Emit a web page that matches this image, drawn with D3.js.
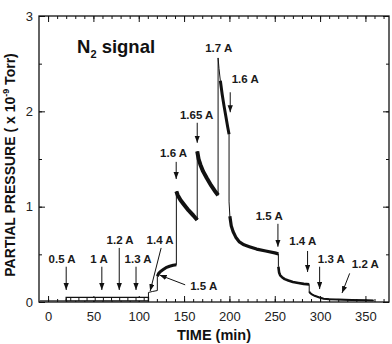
<!DOCTYPE html>
<html><head><meta charset="utf-8">
<script src="https://cdn.jsdelivr.net/npm/d3@7"></script>
<style>body{margin:0;background:#fff} svg{display:block}</style>
</head><body>
<svg id="chart" width="392" height="344"></svg>
<script>
// ---- data ----
const timeMin = [-9, 20, 20, 110.7, 110.7, 115, 120.5, 120.5, 122, 124, 127, 130, 134, 138, 141.5,
  141.5, 143, 146, 150, 155, 160, 164.5,
  164.5, 166, 168, 171, 175, 180, 185, 187.5,
  187.5, 188.5, 190, 192, 194, 196, 198, 199.6,
  199.6, 200.5, 202, 204, 207, 211, 216, 222, 230, 240, 250, 254,
  254, 254.8, 256, 258, 261, 265, 270, 276, 282, 288,
  288, 289, 291, 294, 297, 300, 304, 310, 320, 335, 350, 359];
const pressure = [0.012, 0.012, 0.03, 0.03, 0.10, 0.11, 0.12, 0.27, 0.30, 0.32, 0.34, 0.36, 0.375, 0.385, 0.39,
  1.16, 1.12, 1.07, 1.02, 0.96, 0.91, 0.86,
  1.58, 1.50, 1.44, 1.37, 1.30, 1.22, 1.15, 1.12,
  2.56, 2.45, 2.32, 2.18, 2.06, 1.95, 1.84, 1.76,
  1.05, 0.90, 0.80, 0.74, 0.68, 0.63, 0.60, 0.58, 0.555, 0.535, 0.515, 0.505,
  0.37, 0.31, 0.28, 0.26, 0.24, 0.225, 0.21, 0.20, 0.19, 0.185,
  0.11, 0.095, 0.08, 0.065, 0.055, 0.045, 0.035, 0.03, 0.025, 0.02, 0.018, 0.016];
// noisy baseline band (min .. max)
const bandTime = [20, 110.7];
const bandLow = [0.012, 0.012];
const bandHigh = [0.048, 0.048];
// time ranges where the signal is a noisy (thick) trace
const noisyRanges = [[120.5, 141.5], [141.5, 164.5], [164.5, 187.5], [189, 199.6], [200.5, 254], [254, 288], [288, 359]];

const xTicks = [0, 50, 100, 150, 200, 250, 300, 350];
const yTicks = [0, 1, 2, 3];

// annotations (data coordinates)
const labelText  = ["0.5 A", "1 A", "1.2 A", "1.3 A", "1.4 A", "1.5 A", "1.6 A", "1.65 A", "1.7 A", "1.6 A", "1.5 A", "1.4 A", "1.3 A", "1.2 A"];
const labelTime  = [15.5, 56.3, 79.5, 99.3, 123.6, 171.6, 138.5, 163.9, 188.2, 217.4, 243.9, 280.9, 312.4, 349.9];
const labelValue = [0.41, 0.41, 0.61, 0.41, 0.61, 0.126, 1.52, 1.92, 2.62, 2.30, 0.86, 0.60, 0.41, 0.357];
const arrowFromTime  = [20, 59.3, 78.5, 97, 124.7, 151.2, 141.3, 164.5, null, 200.9, 253.5, 286.2, 299.5, 332.6];
const arrowFromValue = [0.37, 0.37, 0.567, 0.37, 0.567, 0.18, 1.47, 1.88, null, 2.20, 0.82, 0.535, 0.37, 0.30];
const arrowToTime    = [20, 59.3, 78.5, 97, 112.6, 123, 141.3, 164.5, null, 200.9, 253.5, 286.2, 299.5, 324.2];
const arrowToValue   = [0.126, 0.126, 0.126, 0.126, 0.115, 0.283, 1.29, 1.67, null, 1.99, 0.58, 0.315, 0.136, 0.094];

// ---- drawing ----
const svg = d3.select("#chart");
const L = 39, R = 389, T = 16, B = 302;
const x = d3.scaleLinear().domain([-10, 376]).range([L, R]);
const y = d3.scaleLinear().domain([0, 3]).range([B, T]);
const ink = "#111";
const font = "Liberation Sans, Arial, Helvetica, sans-serif";

// axes
function styleAxis(g) {
  g.select(".domain").remove();
  g.selectAll(".tick line").attr("stroke", ink).attr("stroke-width", 1);
  g.selectAll(".tick text").attr("fill", "#222").attr("font-family", font).attr("font-size", 13);
}
const xMinor = d3.range(0, 371, 10);
const yMinor = d3.range(0, 3.01, 0.5);
svg.append("g").attr("transform", `translate(0,${B})`)
  .call(d3.axisBottom(x).tickValues(xMinor).tickSize(-3).tickFormat("")).call(styleAxis);
svg.append("g").attr("transform", `translate(0,${B})`)
  .call(d3.axisBottom(x).tickValues(xTicks).tickSize(-6).tickPadding(10).tickFormat(d3.format("d"))).call(styleAxis);
svg.append("g").attr("transform", `translate(0,${T})`)
  .call(d3.axisTop(x).tickValues(xMinor).tickSize(-3).tickFormat("")).call(styleAxis);
svg.append("g").attr("transform", `translate(0,${T})`)
  .call(d3.axisTop(x).tickValues(xTicks).tickSize(-6).tickFormat("")).call(styleAxis);
svg.append("g").attr("transform", `translate(${L},0)`)
  .call(d3.axisLeft(y).tickValues(yMinor).tickSize(-3).tickFormat("")).call(styleAxis);
svg.append("g").attr("transform", `translate(${L},0)`)
  .call(d3.axisLeft(y).tickValues(yTicks).tickSize(-6).tickPadding(6).tickFormat(d3.format("d"))).call(styleAxis);
svg.append("g").attr("transform", `translate(${R},0)`)
  .call(d3.axisRight(y).tickValues(yMinor).tickSize(-3).tickFormat("")).call(styleAxis);
svg.append("g").attr("transform", `translate(${R},0)`)
  .call(d3.axisRight(y).tickValues(yTicks).tickSize(-6).tickFormat("")).call(styleAxis);

// frame
svg.append("rect").attr("x", L).attr("y", T).attr("width", R - L).attr("height", B - T)
  .attr("fill", "none").attr("stroke", ink).attr("stroke-width", 1.3);

// data
const pts = timeMin.map((t, i) => [t, pressure[i]]);
const line = d3.line().x(d => x(d[0])).y(d => y(d[1]));
svg.append("path").attr("d", line(pts)).attr("fill", "none").attr("stroke", ink).attr("stroke-width", 1);

const noisyWidth = [3, 4, 4, 3, 3.2, 2.6, 2];
noisyRanges.forEach((r, k) => {
  let idx = pts.map((p, i) => i).filter(i => pts[i][0] >= r[0] && pts[i][0] <= r[1]);
  if (idx.length > 1 && pts[idx[0]][0] === pts[idx[1]][0]) idx.shift();
  const n = idx.length;
  if (n > 1 && pts[idx[n - 1]][0] === pts[idx[n - 2]][0]) idx.pop();
  svg.append("path").attr("d", line(idx.map(i => pts[i])))
    .attr("fill", "none").attr("stroke", ink).attr("stroke-width", noisyWidth[k])
    .attr("stroke-linejoin", "round");
});

const band = bandTime.map((t, i) => ({t, lo: bandLow[i], hi: bandHigh[i]}));
svg.append("path")
  .attr("d", d3.area().x(d => x(d.t)).y0(d => y(d.lo)).y1(d => y(d.hi))(band))
  .attr("fill", "#fff").attr("stroke", ink).attr("stroke-width", 1.4);
svg.append("g").selectAll("line").data(d3.range(25, 110, 9)).join("line")
  .attr("x1", d => x(d)).attr("x2", d => x(d))
  .attr("y1", y(bandLow[0])).attr("y2", y(bandHigh[0]))
  .attr("stroke", ink).attr("stroke-width", 1);

// arrows
svg.append("defs").append("marker").attr("id", "ah")
  .attr("viewBox", "0 0 8 6").attr("refX", 8).attr("refY", 3)
  .attr("markerWidth", 7).attr("markerHeight", 5.5).attr("markerUnits", "userSpaceOnUse")
  .attr("orient", "auto")
  .append("path").attr("d", "M0,0 L8,3 L0,6 Z").attr("fill", ink);
const arrows = labelText.map((s, i) => i).filter(i => arrowFromTime[i] !== null);
svg.append("g").selectAll("line").data(arrows).join("line")
  .attr("x1", i => x(arrowFromTime[i])).attr("y1", i => y(arrowFromValue[i]))
  .attr("x2", i => x(arrowToTime[i])).attr("y2", i => y(arrowToValue[i]))
  .attr("stroke", ink).attr("stroke-width", 1).attr("marker-end", "url(#ah)");

// labels
svg.append("g").selectAll("text").data(labelText).join("text")
  .attr("x", (d, i) => x(labelTime[i])).attr("y", (d, i) => y(labelValue[i]))
  .attr("text-anchor", "middle").attr("font-family", font).attr("font-weight", "bold")
  .attr("font-size", 11.5).attr("fill", "#1a1a1a").text(d => d);

// N2 signal
const n2 = svg.append("text").attr("x", 77).attr("y", 53).attr("font-family", font)
  .attr("font-weight", "bold").attr("font-size", 18.5).attr("fill", "#111");
n2.append("tspan").text("N");
n2.append("tspan").attr("font-size", 11).attr("dy", 5).text("2");
n2.append("tspan").attr("dy", -5).text(" signal");

// axis titles
svg.append("text").attr("x", 214).attr("y", 340).attr("text-anchor", "middle")
  .attr("font-family", font).attr("font-weight", "bold").attr("font-size", 14.5).attr("fill", "#111")
  .text("TIME (min)");
const yt = svg.append("text").attr("transform", "translate(15,165) rotate(-90)")
  .attr("text-anchor", "middle").attr("font-family", font).attr("font-weight", "bold")
  .attr("font-size", 14).attr("fill", "#111");
yt.append("tspan").text("PARTIAL PRESSURE ( x 10");
yt.append("tspan").attr("font-size", 9).attr("dy", -6).text("-9");
yt.append("tspan").attr("dy", 6).text(" Torr)");
</script>
</body></html>
